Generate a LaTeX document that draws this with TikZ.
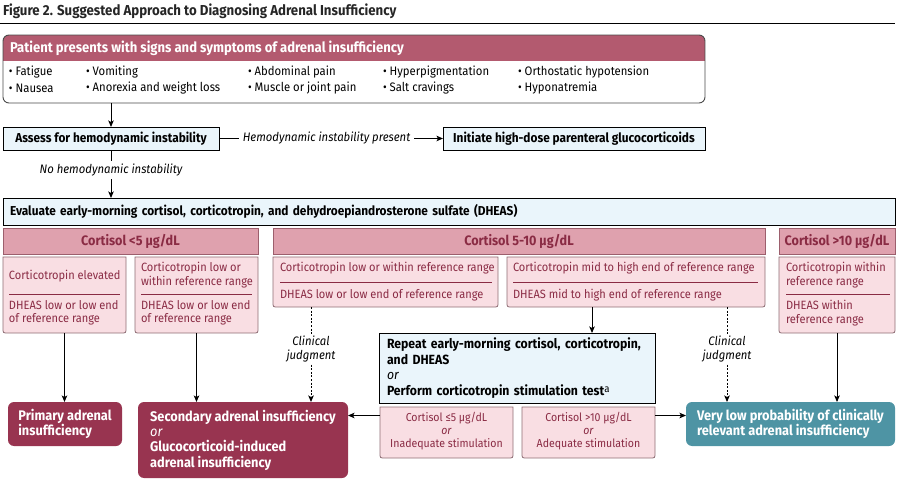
\documentclass[tikz,border=0pt]{standalone}
\usepackage{fontspec}
\setmainfont{Fira Sans}[FakeStretch=0.92]
\usetikzlibrary{arrows.meta,calc}
\definecolor{hdr}{HTML}{B35A6F}
\definecolor{lblue}{HTML}{EAF5FB}
\definecolor{chdr}{HTML}{DFA1AE}
\definecolor{chdrline}{HTML}{9C5F6D}
\definecolor{sfill}{HTML}{F9DEE3}
\definecolor{sline}{HTML}{8E6D74}
\definecolor{mtext}{HTML}{8A2B44}
\definecolor{dark}{HTML}{983450}
\definecolor{teal}{HTML}{4E94A4}
\definecolor{bordergray}{HTML}{4A4A4A}
\newcommand\botround[2]{\draw[#2] (#1.north west) -- (#1.north east) -- ([yshift=5pt]#1.south east) .. controls (#1.south east) .. ([xshift=-5pt]#1.south east) -- ([xshift=5pt]#1.south west) .. controls (#1.south west) .. ([yshift=5pt]#1.south west) -- cycle;}
\begin{document}
\begin{tikzpicture}[x=1pt,y=-1pt,
  bw/.style={minimum width=#1},
  bh/.style={minimum height=#1},
  every node/.style={inner sep=0pt, outer sep=0pt},
  arr/.style={-{Stealth[length=6.5pt,width=5.5pt,inset=1.5pt]}, line width=0.9pt},
  dsh/.style={arr, dash pattern=on 2pt off 1.6pt},
  frame/.style={anchor=north west},
  bluebox/.style={frame, draw=black, fill=lblue, line width=0.9pt},
  chbox/.style={frame, draw=chdrline, fill=chdr, line width=0.8pt, text=mtext, font=\bfseries\fontsize{13.7}{15}\selectfont},
  subb/.style={draw=sline, fill=sfill, line width=0.8pt},
  sep/.style={draw=mtext, line width=0.8pt},
  stext/.style={anchor=west, align=left, text=mtext, font=\fontsize{12}{13.5}\selectfont},
  btext/.style={font=\bfseries\fontsize{12.9}{15}\selectfont},
  itext/.style={font=\itshape\fontsize{12.3}{14}\selectfont},
  bul/.style={anchor=west, font=\fontsize{12.3}{14}\selectfont},
  endbox/.style={frame, rounded corners=6pt, text=white, align=left, font=\bfseries\fontsize{13.9}{15.3}\selectfont}
]
\useasboundingbox (0,0) rectangle (905,481);

% title
\node[anchor=base west, font=\bfseries\fontsize{14.4}{16}\selectfont, text=black!85] (title) at (3,16) {Figure 2. Suggested Approach to Diagnosing Adrenal Insufficiency};
\draw[line width=1pt] (0,23.5) -- (895,23.5);

% top box
\begin{scope}
\clip[rounded corners=6pt] (3,35) rectangle (705,103);
\fill[hdr] (3,35) rectangle (705,61);
\end{scope}
\node[frame, draw=bordergray, rounded corners=6pt, line width=0.9pt, bw=702, bh=68] (patient) at (3,35) {};
\node[anchor=west, text=white, font=\bfseries\fontsize{14.2}{16}\selectfont] (ptitle) at (10,48) {Patient presents with signs and symptoms of adrenal insufficiency};
\node[bul] (s1) at (9,72) {• Fatigue};
\node[bul] (s2) at (9,88) {• Nausea};
\node[bul] (s3) at (86,72) {• Vomiting};
\node[bul] (s4) at (86,88) {• Anorexia and weight loss};
\node[bul] (s5) at (248,72) {• Abdominal pain};
\node[bul] (s6) at (248,88) {• Muscle or joint pain};
\node[bul] (s7) at (383,72) {• Hyperpigmentation};
\node[bul] (s8) at (383,88) {• Salt cravings};
\node[bul] (s9) at (518,72) {• Orthostatic hypotension};
\node[bul] (s10) at (518,88) {• Hyponatremia};

% assess / initiate
\node[bluebox, bw=216, bh=23, btext] (assess) at (3,127) {Assess for hemodynamic instability};
\node[bluebox, bw=262, bh=23, btext] (initiate) at (443,127) {Initiate high-dose parenteral glucocorticoids};
\draw[arr] (assess.north |- patient.south) -- (assess.north);
\draw[arr] (assess) -- node[pos=0.48, fill=white, inner xsep=3.5pt, inner ysep=2pt, itext] {Hemodynamic instability present} (initiate);

% evaluate
\node[bluebox, bw=892, bh=27, inner xsep=7pt, text width=878pt, align=left, btext] (evaluate) at (3,198) {Evaluate early-morning cortisol, corticotropin, and dehydroepiandrosterone sulfate (DHEAS)};
\draw[arr] (assess.south) -- node[pos=0.42, fill=white, inner xsep=3pt, inner ysep=3pt, itext] {No hemodynamic instability} (assess.south |- evaluate.north);

% cortisol headers
\node[chbox, bw=255, bh=26] (h1) at (3,228) {Cortisol <5 μg/dL};
\node[chbox, bw=492, bh=26] (h2) at (273,228) {Cortisol 5-10 μg/dL};
\node[chbox, bw=116, bh=26] (h3) at (779,228) {Cortisol >10 μg/dL};

% sub boxes
\node[frame, bw=123, bh=76] (b1) at (3,257) {};
\node[frame, bw=123, bh=76] (b2) at (135,257) {};
\node[frame, bw=225, bh=50] (b3) at (273,257) {};
\node[frame, bw=258, bh=50] (b4) at (507,257) {};
\node[frame, bw=116, bh=76] (b5) at (779,257) {};
\botround{b1}{subb}
\botround{b2}{subb}
\botround{b3}{subb}
\botround{b4}{subb}
\botround{b5}{subb}

\node[stext] (t1a) at (9,276) {Corticotropin elevated};
\draw[sep] (9,294) -- (120,294);
\node[stext] (t1b) at (9,313) {DHEAS low or low end\\of reference range};

\node[stext] (t2a) at (141,275) {Corticotropin low or\\within reference range};
\draw[sep] (141,294) -- (252,294);
\node[stext] (t2b) at (141,313) {DHEAS low or low end\\of reference range};

\node[stext] (t3a) at (280,268) {Corticotropin low or within reference range};
\draw[sep] (280,282) -- (492,282);
\node[stext] (t3b) at (280,295) {DHEAS low or low end of reference range};

\node[stext] (t4a) at (513,268) {Corticotropin mid to high end of reference range};
\draw[sep] (513,282) -- (758,282);
\node[stext] (t4b) at (513,295) {DHEAS mid to high end of reference range};

\node[stext] (t5a) at (786,275) {Corticotropin within\\reference range};
\draw[sep] (786,294) -- (890,294);
\node[stext] (t5b) at (786,313) {DHEAS within\\reference range};

% repeat box
\node[bluebox, bw=276, bh=70, inner xsep=8pt, text width=260pt, align=left, font=\fontsize{13.3}{15.5}\selectfont] (repeat) at (379,333) {\textbf{Repeat early-morning cortisol, corticotropin,}\\\textbf{and DHEAS}\\\textit{or}\\\textbf{Perform corticotropin stimulation test}\raisebox{2.5pt}{\fontsize{10.5}{10.5}\selectfont a}};

\node[frame, bw=133, bh=51] (sl) at (380,407) {};
\node[frame, bw=133, bh=51] (sr) at (522,407) {};
\botround{sl}{subb}
\botround{sr}{subb}
\node[align=center, text=mtext, font=\fontsize{11.5}{12.7}\selectfont] (tsl) at (446.5,431) {Cortisol ≤5 μg/dL\\\textit{or}\\Inadequate stimulation};
\node[align=center, text=mtext, font=\fontsize{11.5}{12.7}\selectfont] (tsr) at (588.5,431) {Cortisol >10 μg/dL\\\textit{or}\\Adequate stimulation};

% end boxes
\node[endbox, fill=dark, bw=114, bh=44] (primary) at (8,402) {Primary adrenal\\insufficiency};
\node[endbox, fill=dark, bw=210, bh=76] (second) at (138,402) {Secondary adrenal insufficiency\\\textit{\mdseries or}\\Glucocorticoid-induced\\adrenal insufficiency};
\node[endbox, fill=teal, bw=209, bh=44] (verylow) at (686,402) {Very low probability of clinically\\relevant adrenal insufficiency};

% connectors
\draw[arr] (b1.south) -- (b1.south |- primary.north);
\draw[arr] (b2.south) -- (b2.south |- second.north);
\draw[dsh] ([xshift=38pt]b3.south west) -- node[pos=0.44, fill=white, inner ysep=2pt, align=center, itext] {Clinical\\judgment} ([xshift=38pt]b3.south west |- second.north);
\draw[arr] ([xshift=85pt]b4.south west) -- ([xshift=85pt]b4.south west |- repeat.north);
\draw[dsh] ([xshift=220pt]b4.south west) -- node[pos=0.44, fill=white, inner ysep=2pt, align=center, itext] {Clinical\\judgment} ([xshift=220pt]b4.south west |- verylow.north);
\draw[arr] (b5.south) -- (b5.south |- verylow.north);
\draw[arr] ([yshift=17pt]sl.west) -- ([yshift=17pt]sl.west -| second.east);
\draw[arr] ([yshift=17pt]sr.east) -- ([yshift=17pt]sr.east -| verylow.west);
\end{tikzpicture}
\end{document}
